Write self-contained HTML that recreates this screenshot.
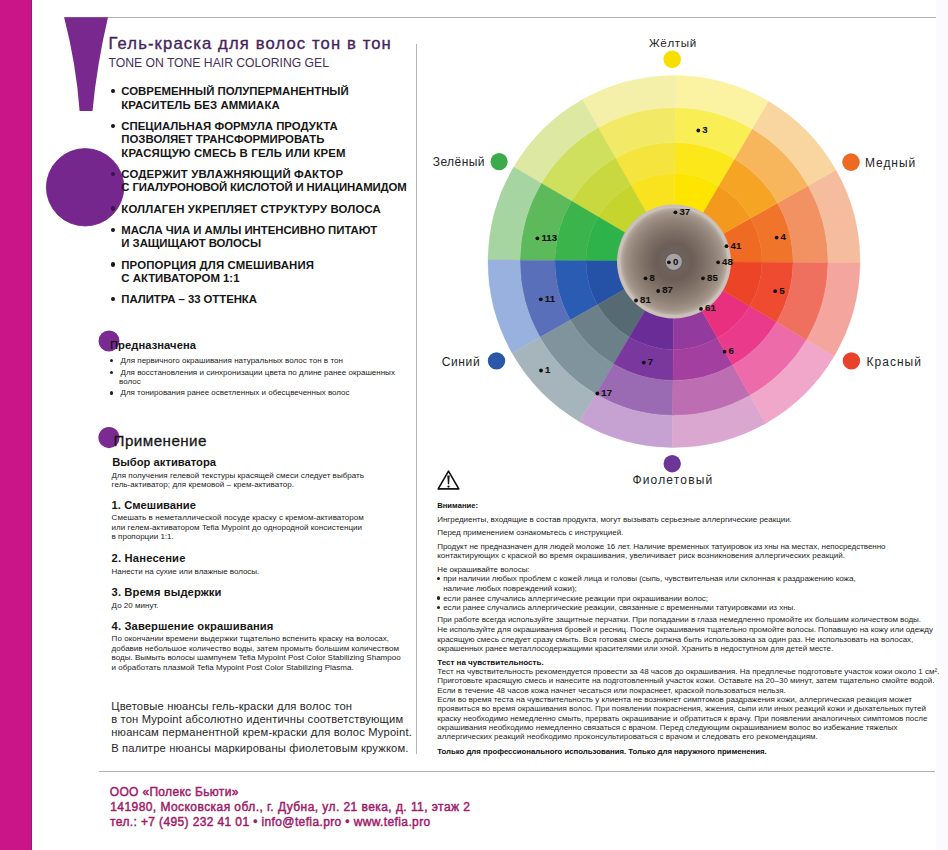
<!DOCTYPE html>
<html><head><meta charset="utf-8"><title>Tefia Mypoint Tone on Tone</title>
<style>
html,body{margin:0;padding:0;background:#fff;}
body{width:948px;height:850px;position:relative;overflow:hidden;font-family:"Liberation Sans",sans-serif;}
.t{position:absolute;white-space:nowrap;}
</style></head><body>
<div style="position:absolute;left:0;top:0;width:31px;height:850px;background:#CA1589"></div>
<div style="position:absolute;left:31px;top:0;width:1px;height:850px;background:#A81277"></div>
<div style="position:absolute;left:936px;top:0;width:12px;height:850px;background:#FBFBFD"></div>
<div style="position:absolute;left:64px;top:16.5px;width:872px;height:1.5px;background:#B0B0B0"></div>
<div style="position:absolute;left:416px;top:44px;width:1px;height:710px;background:#B5B5B5"></div>
<div style="position:absolute;left:99px;top:770.5px;width:836px;height:1.5px;background:#B0B0B0"></div>
<svg style="position:absolute;left:0;top:0" width="948" height="850">
<path d="M64.1 17.3 L108 17.3 Q96.95 64.35 92.5 110.9 L79.6 110.9 Q76.2 64.35 64.1 17.3 Z" fill="#79298E"/>
<circle cx="85.1" cy="187.3" r="38.7" fill="#75278D" stroke="#6A2082" stroke-width="0.8"/>
<circle cx="109" cy="341" r="10.5" fill="#7B2A92"/>
<circle cx="109" cy="437.6" r="10.6" fill="#7B2A92"/>
</svg>
<div class="t" id="b0" style="left:108.5px;top:35.60px;font-size:16.6px;line-height:16.6px;color:#44245C;font-weight:normal;letter-spacing:1.143px;-webkit-text-stroke:0.35px #44245C;">Гель-краска для волос тон в тон</div>
<div class="t" id="b1" style="left:108.5px;top:57.00px;font-size:12.2px;line-height:12.2px;color:#45305A;font-weight:normal;letter-spacing:-0.010px;">TONE ON TONE HAIR COLORING GEL</div>
<div style="position:absolute;left:110.64999999999999px;top:89.1px;width:4.3px;height:4.3px;border-radius:50%;background:#161616"></div>
<div class="t" id="b2" style="left:121.3px;top:86.40px;font-size:11.4px;line-height:11.4px;color:#161616;font-weight:bold;letter-spacing:-0.008px;">СОВРЕМЕННЫЙ ПОЛУПЕРМАНЕНТНЫЙ</div>
<div class="t" id="b3" style="left:121.3px;top:99.70px;font-size:11.4px;line-height:11.4px;color:#161616;font-weight:bold;letter-spacing:0.086px;">КРАСИТЕЛЬ БЕЗ АММИАКА</div>
<div style="position:absolute;left:110.64999999999999px;top:123.69999999999999px;width:4.3px;height:4.3px;border-radius:50%;background:#161616"></div>
<div class="t" id="b4" style="left:121.3px;top:121.01px;font-size:11.4px;line-height:11.4px;color:#161616;font-weight:bold;letter-spacing:0.022px;">СПЕЦИАЛЬНАЯ ФОРМУЛА ПРОДУКТА</div>
<div class="t" id="b5" style="left:121.3px;top:134.32px;font-size:11.4px;line-height:11.4px;color:#161616;font-weight:bold;letter-spacing:-0.009px;">ПОЗВОЛЯЕТ ТРАНСФОРМИРОВАТЬ</div>
<div class="t" id="b6" style="left:121.3px;top:147.61px;font-size:11.4px;line-height:11.4px;color:#161616;font-weight:bold;letter-spacing:0.138px;">КРАСЯЩУЮ СМЕСЬ В ГЕЛЬ ИЛИ КРЕМ</div>
<div style="position:absolute;left:110.64999999999999px;top:171.5px;width:4.3px;height:4.3px;border-radius:50%;background:#3A1248"></div>
<div class="t" id="b7" style="left:121.3px;top:168.82px;font-size:11.4px;line-height:11.4px;color:#161616;font-weight:bold;letter-spacing:0.169px;">СОДЕРЖИТ УВЛАЖНЯЮЩИЙ ФАКТОР</div>
<div class="t" id="b8" style="left:121.3px;top:182.11px;font-size:11.4px;line-height:11.4px;color:#161616;font-weight:bold;letter-spacing:-0.150px;">С ГИАЛУРОНОВОЙ КИСЛОТОЙ И НИАЦИНАМИДОМ</div>
<div style="position:absolute;left:110.64999999999999px;top:206.29999999999998px;width:4.3px;height:4.3px;border-radius:50%;background:#3A1248"></div>
<div class="t" id="b9" style="left:121.3px;top:203.61px;font-size:11.4px;line-height:11.4px;color:#161616;font-weight:bold;letter-spacing:0.148px;">КОЛЛАГЕН УКРЕПЛЯЕТ СТРУКТУРУ ВОЛОСА</div>
<div style="position:absolute;left:110.64999999999999px;top:227.5px;width:4.3px;height:4.3px;border-radius:50%;background:#161616"></div>
<div class="t" id="b10" style="left:121.3px;top:224.82px;font-size:11.4px;line-height:11.4px;color:#161616;font-weight:bold;letter-spacing:-0.035px;">МАСЛА ЧИА И АМЛЫ ИНТЕНСИВНО ПИТАЮТ</div>
<div class="t" id="b11" style="left:121.3px;top:238.11px;font-size:11.4px;line-height:11.4px;color:#161616;font-weight:bold;letter-spacing:-0.049px;">И ЗАЩИЩАЮТ ВОЛОСЫ</div>
<div style="position:absolute;left:110.64999999999999px;top:262.3px;width:4.3px;height:4.3px;border-radius:50%;background:#161616"></div>
<div class="t" id="b12" style="left:121.3px;top:259.61px;font-size:11.4px;line-height:11.4px;color:#161616;font-weight:bold;letter-spacing:0.128px;">ПРОПОРЦИЯ ДЛЯ СМЕШИВАНИЯ</div>
<div class="t" id="b13" style="left:121.3px;top:272.90px;font-size:11.4px;line-height:11.4px;color:#161616;font-weight:bold;letter-spacing:-0.005px;">С АКТИВАТОРОМ 1:1</div>
<div style="position:absolute;left:110.64999999999999px;top:297.1px;width:4.3px;height:4.3px;border-radius:50%;background:#161616"></div>
<div class="t" id="b14" style="left:121.3px;top:294.40px;font-size:11.4px;line-height:11.4px;color:#161616;font-weight:bold;letter-spacing:-0.058px;">ПАЛИТРА – 33 ОТТЕНКА</div>
<div class="t" id="b15" style="left:110px;top:339.81px;font-size:11.2px;line-height:11.2px;color:#161616;font-weight:bold;letter-spacing:0.060px;">Предназначена</div>
<div class="t" id="b16" style="left:120.5px;top:357.01px;font-size:8px;line-height:8px;color:#222222;font-weight:normal;letter-spacing:0.031px;">Для первичного окрашивания натуральных волос тон в тон</div>
<div class="t" id="b17" style="left:120.5px;top:368.60px;font-size:8px;line-height:8px;color:#222222;font-weight:normal;letter-spacing:0.009px;">Для восстановления и синхронизации цвета по длине ранее окрашенных</div>
<div class="t" id="b18" style="left:119px;top:377.80px;font-size:8px;line-height:8px;color:#222222;font-weight:normal;letter-spacing:0px;">волос</div>
<div class="t" id="b19" style="left:120.5px;top:389.30px;font-size:8px;line-height:8px;color:#222222;font-weight:normal;letter-spacing:-0.004px;">Для тонирования ранее осветленных и обесцвеченных волос</div>
<div style="position:absolute;left:109.50px;top:358.90px;width:3.4px;height:3.4px;border-radius:50%;background:#222"></div>
<div style="position:absolute;left:109.50px;top:370.50px;width:3.4px;height:3.4px;border-radius:50%;background:#222"></div>
<div style="position:absolute;left:109.50px;top:391.20px;width:3.4px;height:3.4px;border-radius:50%;background:#222"></div>
<div class="t" id="b20" style="left:113.6px;top:432.91px;font-size:15.2px;line-height:15.2px;color:#161616;font-weight:normal;letter-spacing:0.445px;-webkit-text-stroke:0.3px #1a1a1a;">Применение</div>
<div class="t" id="b21" style="left:112.2px;top:456.90px;font-size:11.2px;line-height:11.2px;color:#161616;font-weight:bold;letter-spacing:0.009px;">Выбор активатора</div>
<div class="t" id="b22" style="left:111.6px;top:472.01px;font-size:8px;line-height:8px;color:#222222;font-weight:normal;letter-spacing:0.026px;">Для получения гелевой текстуры красящей смеси следует выбрать</div>
<div class="t" id="b23" style="left:111.6px;top:481.22px;font-size:8px;line-height:8px;color:#222222;font-weight:normal;letter-spacing:0.053px;">гель-активатор; для кремовой – крем-активатор.</div>
<div class="t" id="b24" style="left:111.6px;top:500.21px;font-size:11.2px;line-height:11.2px;color:#161616;font-weight:bold;letter-spacing:0.031px;">1. Смешивание</div>
<div class="t" id="b25" style="left:111.6px;top:514.30px;font-size:8px;line-height:8px;color:#222222;font-weight:normal;letter-spacing:0.064px;">Смешать в неметаллической посуде краску с кремом-активатором</div>
<div class="t" id="b26" style="left:111.6px;top:524.41px;font-size:8px;line-height:8px;color:#222222;font-weight:normal;letter-spacing:0.047px;">или гелем-активатором Tefia Mypoint до однородной консистенции</div>
<div class="t" id="b27" style="left:111.6px;top:533.30px;font-size:8px;line-height:8px;color:#222222;font-weight:normal;letter-spacing:0.011px;">в пропорции 1:1.</div>
<div class="t" id="b28" style="left:111.6px;top:553.11px;font-size:11.2px;line-height:11.2px;color:#161616;font-weight:bold;letter-spacing:0.175px;">2. Нанесение</div>
<div class="t" id="b29" style="left:111.6px;top:567.91px;font-size:8px;line-height:8px;color:#222222;font-weight:normal;letter-spacing:-0.023px;">Нанести на сухие или влажные волосы.</div>
<div class="t" id="b30" style="left:111.6px;top:587.11px;font-size:11.2px;line-height:11.2px;color:#161616;font-weight:bold;letter-spacing:0.095px;">3. Время выдержки</div>
<div class="t" id="b31" style="left:111.6px;top:602.01px;font-size:8px;line-height:8px;color:#222222;font-weight:normal;letter-spacing:0.028px;">До 20 минут.</div>
<div class="t" id="b32" style="left:111.6px;top:621.21px;font-size:11.2px;line-height:11.2px;color:#161616;font-weight:bold;letter-spacing:0.126px;">4. Завершение окрашивания</div>
<div class="t" id="b33" style="left:111.6px;top:635.30px;font-size:8px;line-height:8px;color:#222222;font-weight:normal;letter-spacing:0.043px;">По окончании времени выдержки тщательно вспенить краску на волосах,</div>
<div class="t" id="b34" style="left:111.6px;top:645.22px;font-size:8px;line-height:8px;color:#222222;font-weight:normal;letter-spacing:0.012px;">добавив небольшое количество воды, затем промыть большим количеством</div>
<div class="t" id="b35" style="left:111.6px;top:654.22px;font-size:8px;line-height:8px;color:#222222;font-weight:normal;letter-spacing:0.008px;">воды. Вымыть волосы шампунем Tefia Mypoint Post Color Stabilizing Shampoo</div>
<div class="t" id="b36" style="left:111.6px;top:663.51px;font-size:8px;line-height:8px;color:#222222;font-weight:normal;letter-spacing:0.008px;">и обработать плазмой Tefia Mypoint Post Color Stabilizing Plasma.</div>
<div class="t" id="b37" style="left:111.2px;top:701.11px;font-size:11.2px;line-height:11.2px;color:#262626;font-weight:normal;letter-spacing:0.166px;">Цветовые нюансы гель-краски для волос тон</div>
<div class="t" id="b38" style="left:111.2px;top:713.71px;font-size:11.2px;line-height:11.2px;color:#262626;font-weight:normal;letter-spacing:0.158px;">в тон Mypoint абсолютно идентичны соответствующим</div>
<div class="t" id="b39" style="left:111.2px;top:726.71px;font-size:11.2px;line-height:11.2px;color:#262626;font-weight:normal;letter-spacing:0.188px;">нюансам перманентной крем-краски для волос Mypoint.</div>
<div class="t" id="b40" style="left:111.2px;top:742.90px;font-size:11.2px;line-height:11.2px;color:#262626;font-weight:normal;letter-spacing:0.173px;">В палитре нюансы маркированы фиолетовым кружком.</div>
<div class="t" id="b41" style="left:109.8px;top:785.91px;font-size:12px;line-height:12px;color:#A01A68;font-weight:normal;letter-spacing:0.318px;-webkit-text-stroke:0.45px #A01A68;">ООО «Полекс Бьюти»</div>
<div class="t" id="b42" style="left:110.2px;top:801.10px;font-size:12px;line-height:12px;color:#A01A68;font-weight:normal;letter-spacing:0.439px;-webkit-text-stroke:0.45px #A01A68;">141980, Московская обл., г. Дубна, ул. 21 века, д. 11, этаж 2</div>
<div class="t" id="b43" style="left:110.0px;top:816.41px;font-size:12px;line-height:12px;color:#A01A68;font-weight:normal;letter-spacing:0.378px;-webkit-text-stroke:0.45px #A01A68;">тел.: +7 (495) 232 41 01 • info@tefia.pro • www.tefia.pro</div>
<svg style="position:absolute;left:0;top:0" width="948" height="850"><g transform="translate(674.0,261.5) rotate(0.5)">
<path d="M88.00,-0.00 A88,88 0 0 0 76.21,-44.00 L48.50,-28.00 A56,56 0 0 1 56.00,-0.00 Z" fill="#EF6A23" stroke="#EF6A23" stroke-width="0.4"/>
<path d="M119.00,-0.00 A119,119 0 0 0 103.06,-59.50 L76.21,-44.00 A88,88 0 0 1 88.00,-0.00 Z" fill="#F1742B" stroke="#F1742B" stroke-width="0.4"/>
<path d="M154.00,-0.00 A154,154 0 0 0 133.37,-77.00 L103.06,-59.50 A119,119 0 0 1 119.00,-0.00 Z" fill="#F29263" stroke="#F29263" stroke-width="0.4"/>
<path d="M186.00,-0.00 A186,186 0 0 0 161.08,-93.00 L133.37,-77.00 A154,154 0 0 1 154.00,-0.00 Z" fill="#F6BC9E" stroke="#F6BC9E" stroke-width="0.4"/>
<path d="M76.21,-44.00 A88,88 0 0 0 44.00,-76.21 L28.00,-48.50 A56,56 0 0 1 48.50,-28.00 Z" fill="#F39A1E" stroke="#F39A1E" stroke-width="0.4"/>
<path d="M103.06,-59.50 A119,119 0 0 0 59.50,-103.06 L44.00,-76.21 A88,88 0 0 1 76.21,-44.00 Z" fill="#F5A523" stroke="#F5A523" stroke-width="0.4"/>
<path d="M133.37,-77.00 A154,154 0 0 0 77.00,-133.37 L59.50,-103.06 A119,119 0 0 1 103.06,-59.50 Z" fill="#F7B65C" stroke="#F7B65C" stroke-width="0.4"/>
<path d="M161.08,-93.00 A186,186 0 0 0 93.00,-161.08 L77.00,-133.37 A154,154 0 0 1 133.37,-77.00 Z" fill="#F9D59F" stroke="#F9D59F" stroke-width="0.4"/>
<path d="M44.00,-76.21 A88,88 0 0 0 0.00,-88.00 L0.00,-56.00 A56,56 0 0 1 28.00,-48.50 Z" fill="#FDE500" stroke="#FDE500" stroke-width="0.4"/>
<path d="M59.50,-103.06 A119,119 0 0 0 0.00,-119.00 L0.00,-88.00 A88,88 0 0 1 44.00,-76.21 Z" fill="#FCE71A" stroke="#FCE71A" stroke-width="0.4"/>
<path d="M77.00,-133.37 A154,154 0 0 0 0.00,-154.00 L0.00,-119.00 A119,119 0 0 1 59.50,-103.06 Z" fill="#FAEE55" stroke="#FAEE55" stroke-width="0.4"/>
<path d="M93.00,-161.08 A186,186 0 0 0 0.00,-186.00 L0.00,-154.00 A154,154 0 0 1 77.00,-133.37 Z" fill="#FBF3A2" stroke="#FBF3A2" stroke-width="0.4"/>
<path d="M0.00,-88.00 A88,88 0 0 0 -44.00,-76.21 L-28.00,-48.50 A56,56 0 0 1 0.00,-56.00 Z" fill="#F8E31E" stroke="#F8E31E" stroke-width="0.4"/>
<path d="M0.00,-119.00 A119,119 0 0 0 -59.50,-103.06 L-44.00,-76.21 A88,88 0 0 1 0.00,-88.00 Z" fill="#F5E43E" stroke="#F5E43E" stroke-width="0.4"/>
<path d="M0.00,-154.00 A154,154 0 0 0 -77.00,-133.37 L-59.50,-103.06 A119,119 0 0 1 0.00,-119.00 Z" fill="#F2EA66" stroke="#F2EA66" stroke-width="0.4"/>
<path d="M0.00,-186.00 A186,186 0 0 0 -93.00,-161.08 L-77.00,-133.37 A154,154 0 0 1 0.00,-154.00 Z" fill="#F4F0A9" stroke="#F4F0A9" stroke-width="0.4"/>
<path d="M-44.00,-76.21 A88,88 0 0 0 -76.21,-44.00 L-48.50,-28.00 A56,56 0 0 1 -28.00,-48.50 Z" fill="#C5D52E" stroke="#C5D52E" stroke-width="0.4"/>
<path d="M-59.50,-103.06 A119,119 0 0 0 -103.06,-59.50 L-76.21,-44.00 A88,88 0 0 1 -44.00,-76.21 Z" fill="#C8D83E" stroke="#C8D83E" stroke-width="0.4"/>
<path d="M-77.00,-133.37 A154,154 0 0 0 -133.37,-77.00 L-103.06,-59.50 A119,119 0 0 1 -59.50,-103.06 Z" fill="#CEE05E" stroke="#CEE05E" stroke-width="0.4"/>
<path d="M-93.00,-161.08 A186,186 0 0 0 -161.08,-93.00 L-133.37,-77.00 A154,154 0 0 1 -77.00,-133.37 Z" fill="#DDE9A3" stroke="#DDE9A3" stroke-width="0.4"/>
<path d="M-76.21,-44.00 A88,88 0 0 0 -88.00,-0.00 L-56.00,-0.00 A56,56 0 0 1 -48.50,-28.00 Z" fill="#2EB24A" stroke="#2EB24A" stroke-width="0.4"/>
<path d="M-103.06,-59.50 A119,119 0 0 0 -119.00,-0.00 L-88.00,-0.00 A88,88 0 0 1 -76.21,-44.00 Z" fill="#3AB44B" stroke="#3AB44B" stroke-width="0.4"/>
<path d="M-133.37,-77.00 A154,154 0 0 0 -154.00,-0.00 L-119.00,-0.00 A119,119 0 0 1 -103.06,-59.50 Z" fill="#5CBA5B" stroke="#5CBA5B" stroke-width="0.4"/>
<path d="M-161.08,-93.00 A186,186 0 0 0 -186.00,-0.00 L-154.00,-0.00 A154,154 0 0 1 -133.37,-77.00 Z" fill="#A6D5A2" stroke="#A6D5A2" stroke-width="0.4"/>
<path d="M-88.00,-0.00 A88,88 0 0 0 -76.21,44.00 L-48.50,28.00 A56,56 0 0 1 -56.00,-0.00 Z" fill="#2552A6" stroke="#2552A6" stroke-width="0.4"/>
<path d="M-119.00,-0.00 A119,119 0 0 0 -103.06,59.50 L-76.21,44.00 A88,88 0 0 1 -88.00,-0.00 Z" fill="#2B5CB4" stroke="#2B5CB4" stroke-width="0.4"/>
<path d="M-154.00,-0.00 A154,154 0 0 0 -133.37,77.00 L-103.06,59.50 A119,119 0 0 1 -119.00,-0.00 Z" fill="#5A6FBA" stroke="#5A6FBA" stroke-width="0.4"/>
<path d="M-186.00,-0.00 A186,186 0 0 0 -161.08,93.00 L-133.37,77.00 A154,154 0 0 1 -154.00,-0.00 Z" fill="#98B1DF" stroke="#98B1DF" stroke-width="0.4"/>
<path d="M-76.21,44.00 A88,88 0 0 0 -44.00,76.21 L-28.00,48.50 A56,56 0 0 1 -48.50,28.00 Z" fill="#566A74" stroke="#566A74" stroke-width="0.4"/>
<path d="M-103.06,59.50 A119,119 0 0 0 -59.50,103.06 L-44.00,76.21 A88,88 0 0 1 -76.21,44.00 Z" fill="#6B8089" stroke="#6B8089" stroke-width="0.4"/>
<path d="M-133.37,77.00 A154,154 0 0 0 -77.00,133.37 L-59.50,103.06 A119,119 0 0 1 -103.06,59.50 Z" fill="#80949D" stroke="#80949D" stroke-width="0.4"/>
<path d="M-161.08,93.00 A186,186 0 0 0 -93.00,161.08 L-77.00,133.37 A154,154 0 0 1 -133.37,77.00 Z" fill="#A6B5BB" stroke="#A6B5BB" stroke-width="0.4"/>
<path d="M-44.00,76.21 A88,88 0 0 0 -0.00,88.00 L-0.00,56.00 A56,56 0 0 1 -28.00,48.50 Z" fill="#6A2D97" stroke="#6A2D97" stroke-width="0.4"/>
<path d="M-59.50,103.06 A119,119 0 0 0 -0.00,119.00 L-0.00,88.00 A88,88 0 0 1 -44.00,76.21 Z" fill="#7A389F" stroke="#7A389F" stroke-width="0.4"/>
<path d="M-77.00,133.37 A154,154 0 0 0 -0.00,154.00 L-0.00,119.00 A119,119 0 0 1 -59.50,103.06 Z" fill="#9A6AB3" stroke="#9A6AB3" stroke-width="0.4"/>
<path d="M-93.00,161.08 A186,186 0 0 0 -0.00,186.00 L-0.00,154.00 A154,154 0 0 1 -77.00,133.37 Z" fill="#C6A2D3" stroke="#C6A2D3" stroke-width="0.4"/>
<path d="M-0.00,88.00 A88,88 0 0 0 44.00,76.21 L28.00,48.50 A56,56 0 0 1 -0.00,56.00 Z" fill="#923A9D" stroke="#923A9D" stroke-width="0.4"/>
<path d="M-0.00,119.00 A119,119 0 0 0 59.50,103.06 L44.00,76.21 A88,88 0 0 1 -0.00,88.00 Z" fill="#A3409F" stroke="#A3409F" stroke-width="0.4"/>
<path d="M-0.00,154.00 A154,154 0 0 0 77.00,133.37 L59.50,103.06 A119,119 0 0 1 -0.00,119.00 Z" fill="#BD6DB1" stroke="#BD6DB1" stroke-width="0.4"/>
<path d="M-0.00,186.00 A186,186 0 0 0 93.00,161.08 L77.00,133.37 A154,154 0 0 1 -0.00,154.00 Z" fill="#D9A7CF" stroke="#D9A7CF" stroke-width="0.4"/>
<path d="M44.00,76.21 A88,88 0 0 0 76.21,44.00 L48.50,28.00 A56,56 0 0 1 28.00,48.50 Z" fill="#E8307E" stroke="#E8307E" stroke-width="0.4"/>
<path d="M59.50,103.06 A119,119 0 0 0 103.06,59.50 L76.21,44.00 A88,88 0 0 1 44.00,76.21 Z" fill="#EA3A8B" stroke="#EA3A8B" stroke-width="0.4"/>
<path d="M77.00,133.37 A154,154 0 0 0 133.37,77.00 L103.06,59.50 A119,119 0 0 1 59.50,103.06 Z" fill="#EC6BA8" stroke="#EC6BA8" stroke-width="0.4"/>
<path d="M93.00,161.08 A186,186 0 0 0 161.08,93.00 L133.37,77.00 A154,154 0 0 1 77.00,133.37 Z" fill="#F1A7C9" stroke="#F1A7C9" stroke-width="0.4"/>
<path d="M76.21,44.00 A88,88 0 0 0 88.00,0.00 L56.00,0.00 A56,56 0 0 1 48.50,28.00 Z" fill="#EC4426" stroke="#EC4426" stroke-width="0.4"/>
<path d="M103.06,59.50 A119,119 0 0 0 119.00,0.00 L88.00,0.00 A88,88 0 0 1 76.21,44.00 Z" fill="#EE4B30" stroke="#EE4B30" stroke-width="0.4"/>
<path d="M133.37,77.00 A154,154 0 0 0 154.00,0.00 L119.00,0.00 A119,119 0 0 1 103.06,59.50 Z" fill="#F07060" stroke="#F07060" stroke-width="0.4"/>
<path d="M161.08,93.00 A186,186 0 0 0 186.00,0.00 L154.00,0.00 A154,154 0 0 1 133.37,77.00 Z" fill="#F4A59D" stroke="#F4A59D" stroke-width="0.4"/>
<defs><radialGradient id="cg" cx="0" cy="0" r="57" gradientUnits="userSpaceOnUse"><stop offset="0" stop-color="#6E625C"/><stop offset="0.19" stop-color="#6E625C"/><stop offset="0.32" stop-color="#6C5F58"/><stop offset="0.5" stop-color="#7B6D64"/><stop offset="0.72" stop-color="#918277"/><stop offset="0.86" stop-color="#A39589"/><stop offset="0.92" stop-color="#B5AAA1"/><stop offset="0.95" stop-color="#CBC2BB"/><stop offset="1" stop-color="#C9BFB7"/></radialGradient></defs>
<circle cx="0" cy="0" r="57" fill="url(#cg)"/>
<circle cx="-0.2" cy="0.3" r="9.4" fill="#6B5F5B"/><circle cx="-0.2" cy="0.3" r="8.1" fill="#A7A2A8"/>
</g>
<circle cx="672.2" cy="59.3" r="8.8" fill="#F7DF00"/>
<circle cx="499.1" cy="161.6" r="8.6" fill="#3BAA4A"/>
<circle cx="851" cy="162.1" r="8.8" fill="#EE6A22"/>
<circle cx="496.5" cy="360.9" r="8.7" fill="#2A57A7"/>
<circle cx="851.4" cy="360.9" r="8.7" fill="#E8432A"/>
<circle cx="672.2" cy="463.7" r="8.7" fill="#6E3598"/>
<circle cx="698.3" cy="130.5" r="1.9" fill="#111"/>
<circle cx="776.6" cy="237.6" r="1.9" fill="#111"/>
<circle cx="775.2" cy="291.2" r="1.9" fill="#111"/>
<circle cx="724.6" cy="351.7" r="1.9" fill="#111"/>
<circle cx="643.8" cy="362.6" r="1.9" fill="#111"/>
<circle cx="597.3" cy="393.5" r="1.9" fill="#111"/>
<circle cx="541" cy="370.5" r="1.9" fill="#111"/>
<circle cx="540.8" cy="299.3" r="1.9" fill="#111"/>
<circle cx="537.4" cy="238.3" r="1.9" fill="#111"/>
<circle cx="675.4" cy="212.3" r="1.9" fill="#111"/>
<circle cx="726.5" cy="246.2" r="1.9" fill="#111"/>
<circle cx="718.1" cy="262.3" r="1.9" fill="#111"/>
<circle cx="703" cy="278.3" r="1.9" fill="#111"/>
<circle cx="701" cy="308.9" r="1.9" fill="#111"/>
<circle cx="668.9" cy="262.3" r="1.9" fill="#111"/>
<circle cx="645.5" cy="278.3" r="1.9" fill="#111"/>
<circle cx="658.2" cy="291" r="1.9" fill="#111"/>
<circle cx="636" cy="300.5" r="1.9" fill="#111"/>
<path d="M448.5 471.1 L458.8 488.9 L438.2 488.9 Z" fill="none" stroke="#111" stroke-width="1.6" stroke-linejoin="round"/>
<path d="M447.3 475.6 L449.7 475.6 L449.1 484.3 L447.9 484.3 Z" fill="#111"/><circle cx="448.5" cy="486.6" r="1.15" fill="#111"/>
</svg>
<div class="t" id="b44" style="left:702.3px;top:124.81px;font-size:9.6px;line-height:9.6px;color:#111;font-weight:bold;letter-spacing:0.1px;-webkit-text-stroke:0.1px #111;">3</div>
<div class="t" id="b45" style="left:780.6px;top:231.91px;font-size:9.6px;line-height:9.6px;color:#111;font-weight:bold;letter-spacing:0.1px;-webkit-text-stroke:0.1px #111;">4</div>
<div class="t" id="b46" style="left:779.2px;top:285.51px;font-size:9.6px;line-height:9.6px;color:#111;font-weight:bold;letter-spacing:0.1px;-webkit-text-stroke:0.1px #111;">5</div>
<div class="t" id="b47" style="left:728.6px;top:346.01px;font-size:9.6px;line-height:9.6px;color:#111;font-weight:bold;letter-spacing:0.1px;-webkit-text-stroke:0.1px #111;">6</div>
<div class="t" id="b48" style="left:647.8px;top:356.91px;font-size:9.6px;line-height:9.6px;color:#111;font-weight:bold;letter-spacing:0.1px;-webkit-text-stroke:0.1px #111;">7</div>
<div class="t" id="b49" style="left:601.3px;top:387.81px;font-size:9.6px;line-height:9.6px;color:#111;font-weight:bold;letter-spacing:0.1px;-webkit-text-stroke:0.1px #111;">17</div>
<div class="t" id="b50" style="left:545.0px;top:364.81px;font-size:9.6px;line-height:9.6px;color:#111;font-weight:bold;letter-spacing:0.1px;-webkit-text-stroke:0.1px #111;">1</div>
<div class="t" id="b51" style="left:544.8px;top:293.60px;font-size:9.6px;line-height:9.6px;color:#111;font-weight:bold;letter-spacing:0.1px;-webkit-text-stroke:0.1px #111;">11</div>
<div class="t" id="b52" style="left:541.4px;top:232.60px;font-size:9.6px;line-height:9.6px;color:#111;font-weight:bold;letter-spacing:0.1px;-webkit-text-stroke:0.1px #111;">113</div>
<div class="t" id="b53" style="left:679.4px;top:206.60px;font-size:9.6px;line-height:9.6px;color:#111;font-weight:bold;letter-spacing:0.1px;-webkit-text-stroke:0.1px #111;">37</div>
<div class="t" id="b54" style="left:730.5px;top:240.51px;font-size:9.6px;line-height:9.6px;color:#111;font-weight:bold;letter-spacing:0.1px;-webkit-text-stroke:0.1px #111;">41</div>
<div class="t" id="b55" style="left:722.1px;top:256.60px;font-size:9.6px;line-height:9.6px;color:#111;font-weight:bold;letter-spacing:0.1px;-webkit-text-stroke:0.1px #111;">48</div>
<div class="t" id="b56" style="left:707.0px;top:272.60px;font-size:9.6px;line-height:9.6px;color:#111;font-weight:bold;letter-spacing:0.1px;-webkit-text-stroke:0.1px #111;">85</div>
<div class="t" id="b57" style="left:705.0px;top:303.20px;font-size:9.6px;line-height:9.6px;color:#111;font-weight:bold;letter-spacing:0.1px;-webkit-text-stroke:0.1px #111;">61</div>
<div class="t" id="b58" style="left:672.9px;top:256.60px;font-size:9.6px;line-height:9.6px;color:#111;font-weight:bold;letter-spacing:0.1px;-webkit-text-stroke:0.1px #111;">0</div>
<div class="t" id="b59" style="left:649.5px;top:272.60px;font-size:9.6px;line-height:9.6px;color:#111;font-weight:bold;letter-spacing:0.1px;-webkit-text-stroke:0.1px #111;">8</div>
<div class="t" id="b60" style="left:662.2px;top:285.31px;font-size:9.6px;line-height:9.6px;color:#111;font-weight:bold;letter-spacing:0.1px;-webkit-text-stroke:0.1px #111;">87</div>
<div class="t" id="b61" style="left:640.0px;top:294.81px;font-size:9.6px;line-height:9.6px;color:#111;font-weight:bold;letter-spacing:0.1px;-webkit-text-stroke:0.1px #111;">81</div>
<div class="t" id="b62" style="left:649px;top:37.21px;font-size:11.6px;line-height:11.6px;color:#262626;font-weight:normal;letter-spacing:0.631px;">Жёлтый</div>
<div class="t" id="b63" style="left:432.7px;top:156.01px;font-size:12px;line-height:12px;color:#262626;font-weight:normal;letter-spacing:0.441px;">Зелёный</div>
<div class="t" id="b64" style="left:865px;top:156.51px;font-size:12px;line-height:12px;color:#262626;font-weight:normal;letter-spacing:0.940px;">Медный</div>
<div class="t" id="b65" style="left:441.8px;top:355.91px;font-size:12px;line-height:12px;color:#262626;font-weight:normal;letter-spacing:0.598px;">Синий</div>
<div class="t" id="b66" style="left:866.4px;top:355.91px;font-size:12px;line-height:12px;color:#262626;font-weight:normal;letter-spacing:1.051px;">Красный</div>
<div class="t" id="b67" style="left:632.4px;top:474.41px;font-size:12px;line-height:12px;color:#262626;font-weight:normal;letter-spacing:1.182px;">Фиолетовый</div>
<div class="t" id="b68" style="left:437.2px;top:502.11px;font-size:7.6px;line-height:7.6px;color:#111;font-weight:bold;letter-spacing:0.050px;">Внимание:</div>
<div class="t" id="b69" style="left:437.2px;top:515.60px;font-size:8px;line-height:8px;color:#262626;font-weight:normal;letter-spacing:-0.022px;">Ингредиенты, входящие в состав продукта, могут вызывать серьезные аллергические реакции.</div>
<div class="t" id="b70" style="left:437.2px;top:529.01px;font-size:8px;line-height:8px;color:#262626;font-weight:normal;letter-spacing:0px;">Перед применением ознакомьтесь с инструкцией.</div>
<div class="t" id="b71" style="left:437.2px;top:542.60px;font-size:8px;line-height:8px;color:#262626;font-weight:normal;letter-spacing:-0.041px;">Продукт не предназначен для людей моложе 16 лет. Наличие временных татуировок из хны на местах, непосредственно</div>
<div class="t" id="b72" style="left:437.2px;top:552.30px;font-size:8px;line-height:8px;color:#262626;font-weight:normal;letter-spacing:0.022px;">контактирующих с краской во время окрашивания, увеличивает риск возникновения аллергических реакций.</div>
<div class="t" id="b73" style="left:437.2px;top:565.80px;font-size:8px;line-height:8px;color:#262626;font-weight:normal;letter-spacing:-0.035px;">Не окрашивайте волосы:</div>
<div class="t" id="b74" style="left:437.2px;top:616.30px;font-size:8px;line-height:8px;color:#262626;font-weight:normal;letter-spacing:-0.036px;">При работе всегда используйте защитные перчатки. При попадании в глаза немедленно промойте их большим количеством воды.</div>
<div class="t" id="b75" style="left:437.2px;top:625.91px;font-size:8px;line-height:8px;color:#262626;font-weight:normal;letter-spacing:-0.032px;">Не используйте для окрашивания бровей и ресниц. После окрашивания тщательно промойте волосы. Попавшую на кожу или одежду</div>
<div class="t" id="b76" style="left:437.2px;top:635.51px;font-size:8px;line-height:8px;color:#262626;font-weight:normal;letter-spacing:0.003px;">красящую смесь следует сразу смыть. Вся готовая смесь должна быть использована за один раз. Не использовать на волосах,</div>
<div class="t" id="b77" style="left:437.2px;top:644.72px;font-size:8px;line-height:8px;color:#262626;font-weight:normal;letter-spacing:-0.050px;">окрашенных ранее металлосодержащими красителями или хной. Хранить в недоступном для детей месте.</div>
<div class="t" id="b78" style="left:437.2px;top:668.10px;font-size:8px;line-height:8px;color:#262626;font-weight:normal;letter-spacing:-0.005px;">Тест на чувствительность рекомендуется провести за 48 часов до окрашивания. На предплечье подготовьте участок кожи около 1 см².</div>
<div class="t" id="b79" style="left:437.2px;top:677.30px;font-size:8px;line-height:8px;color:#262626;font-weight:normal;letter-spacing:-0.003px;">Приготовьте красящую смесь и нанесите на подготовленный участок кожи. Оставьте на 20–30 минут, затем тщательно смойте водой.</div>
<div class="t" id="b80" style="left:437.2px;top:686.91px;font-size:8px;line-height:8px;color:#262626;font-weight:normal;letter-spacing:-0.002px;">Если в течение 48 часов кожа начнет чесаться или покраснеет, краской пользоваться нельзя.</div>
<div class="t" id="b81" style="left:437.2px;top:695.91px;font-size:8px;line-height:8px;color:#262626;font-weight:normal;letter-spacing:-0.005px;">Если во время теста на чувствительность у клиента не возникнет симптомов раздражения кожи, аллергическая реакция может</div>
<div class="t" id="b82" style="left:437.2px;top:705.10px;font-size:8px;line-height:8px;color:#262626;font-weight:normal;letter-spacing:-0.019px;">проявиться во время окрашивания волос. При появлении покраснения, жжения, сыпи или иных реакций кожи и дыхательных путей</div>
<div class="t" id="b83" style="left:437.2px;top:714.72px;font-size:8px;line-height:8px;color:#262626;font-weight:normal;letter-spacing:-0.017px;">краску необходимо немедленно смыть, прервать окрашивание и обратиться к врачу. При появлении аналогичных симптомов после</div>
<div class="t" id="b84" style="left:437.2px;top:723.91px;font-size:8px;line-height:8px;color:#262626;font-weight:normal;letter-spacing:-0.015px;">окрашивания необходимо немедленно связаться с врачом. Перед следующим окрашиванием волос во избежание тяжелых</div>
<div class="t" id="b85" style="left:437.2px;top:733.01px;font-size:8px;line-height:8px;color:#262626;font-weight:normal;letter-spacing:0.003px;">аллергических реакций необходимо проконсультироваться с врачом и следовать его рекомендациям.</div>
<div class="t" id="b86" style="left:443.2px;top:575.01px;font-size:8px;line-height:8px;color:#262626;font-weight:normal;letter-spacing:-0.011px;">при наличии любых проблем с кожей лица и головы (сыпь, чувствительная или склонная к раздражению кожа,</div>
<div class="t" id="b87" style="left:443.2px;top:584.80px;font-size:8px;line-height:8px;color:#262626;font-weight:normal;letter-spacing:-0.048px;">наличие любых повреждений кожи);</div>
<div class="t" id="b88" style="left:443.2px;top:594.51px;font-size:8px;line-height:8px;color:#262626;font-weight:normal;letter-spacing:-0.022px;">если ранее случались аллергические реакции при окрашивании волос;</div>
<div class="t" id="b89" style="left:443.2px;top:603.72px;font-size:8px;line-height:8px;color:#262626;font-weight:normal;letter-spacing:-0.037px;">если ранее случались аллергические реакции, связанные с временными татуировками из хны.</div>
<div style="position:absolute;left:437.00px;top:576.90px;width:3.2px;height:3.2px;border-radius:50%;background:#222"></div>
<div style="position:absolute;left:437.00px;top:596.40px;width:3.2px;height:3.2px;border-radius:50%;background:#222"></div>
<div style="position:absolute;left:437.00px;top:605.60px;width:3.2px;height:3.2px;border-radius:50%;background:#222"></div>
<div class="t" id="b90" style="left:437.2px;top:659.01px;font-size:8px;line-height:8px;color:#111;font-weight:bold;letter-spacing:0px;">Тест на чувствительность.</div>
<div class="t" id="b91" style="left:437.2px;top:747.51px;font-size:7.8px;line-height:7.8px;color:#111;font-weight:bold;letter-spacing:-0.013px;">Только для профессионального использования. Только для наружного применения.</div>
</body></html>
